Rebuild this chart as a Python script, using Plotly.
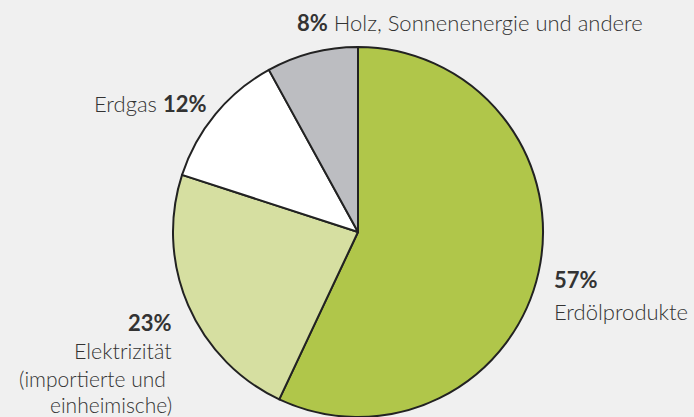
import plotly.graph_objects as go

W, H = 694, 417

categories = ["Erdölprodukte", "Elektrizität", "Erdgas", "Holz, Sonnenenergie und andere"]
values = [57, 23, 12, 8]
colors = ["#b0c64a", "#d6dfa1", "#ffffff", "#bcbdc1"]

FONT = "Lato"
TXT = "#333333"

fig = go.Figure(go.Pie(
    labels=categories,
    values=values,
    sort=False,
    direction="clockwise",
    rotation=0,
    marker=dict(colors=colors, line=dict(color="#222222", width=2)),
    textinfo="none",
    hoverinfo="label+percent",
    showlegend=False,
    domain=dict(x=[173 / W, 543 / W], y=[0, (H - 47) / H]),
))


def px(x):
    return x / W


def py(y):
    return 1 - y / H


def ann(x, y, text, xanchor="left", align="left", size=22):
    return dict(x=px(x), y=py(y), xref="paper", yref="paper", text=text,
                showarrow=False, xanchor=xanchor, yanchor="middle", align=align,
                borderpad=0,
                font=dict(family=FONT, size=size, color=TXT, weight=300))


annotations = [
    ann(296, 22, "<b>8%</b> Holz, Sonnenenergie und andere"),
    ann(93, 103, "Erdgas <b>12%</b>"),
    ann(173, 322, "<b>23%</b>", xanchor="right", align="right"),
    ann(173, 351, "Elektrizität", xanchor="right", align="right", size=21.5),
    ann(173, 378.5, "(importierte und ", xanchor="right", align="right", size=21),
    ann(173, 404, "einheimische)", xanchor="right", align="right", size=21),
    ann(553, 279, "<b>57%</b>"),
    ann(553, 311, "Erdölprodukte"),
]

fig.update_layout(
    width=W, height=H,
    margin=dict(l=0, r=0, t=0, b=0),
    paper_bgcolor="#f0f0f0",
    plot_bgcolor="#f0f0f0",
    annotations=annotations,
)

fig.write_html("out.html", config={"displayModeBar": False},
               post_script="document.body.style.margin='0';document.body.style.overflow='hidden';")
